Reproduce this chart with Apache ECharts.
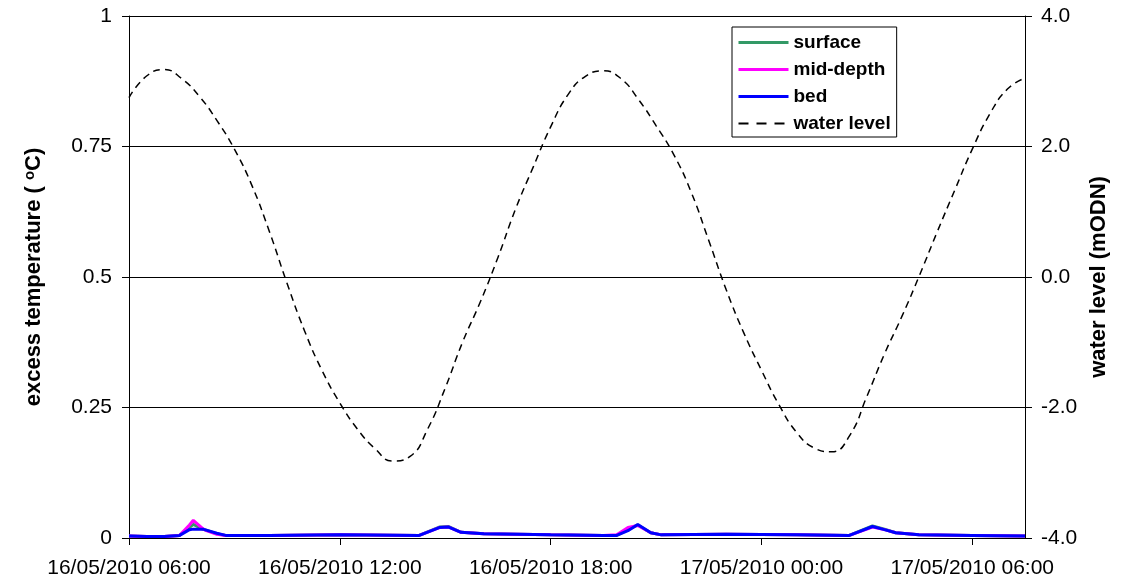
<!DOCTYPE html>
<html>
<head>
<meta charset="utf-8">
<script src="https://cdn.jsdelivr.net/npm/echarts@6/dist/echarts.min.js"></script>
<style>
  html, body { margin: 0; padding: 0; background: #fff; }
  #chart { width: 1125px; height: 585px; }
</style>
</head>
<body>
<div id="chart"></div>
<script>
// ---- data (hours after 16/05/2010 06:00) ----
const startDate = [2010, 4, 16, 6, 0];
const xTickHours = [0, 6, 12, 18, 24];

const levelHours = [0,0.5,1,1.5,2,2.5,3,3.5,4,4.5,5,5.5,6,6.5,7,7.5,8,8.5,9,9.5,10,10.5,11,11.5,12,12.5,13,13.5,14,14.5,15,15.5,16,16.5,17,17.5,18,18.5,19,19.5,20,20.5,21,21.5,22,22.5,23,23.5,24,24.5,25,25.5];
const waterLevel = [2.75,3.08,3.18,3.04,2.77,2.40,1.96,1.40,0.69,-0.1,-0.83,-1.44,-1.93,-2.33,-2.63,-2.82,-2.75,-2.33,-1.70,-0.99,-0.38,0.30,1.04,1.68,2.30,2.80,3.08,3.16,3.04,2.72,2.32,1.88,1.30,0.56,-0.2,-0.86,-1.43,-1.96,-2.38,-2.62,-2.68,-2.44,-1.83,-1.18,-0.60,0.03,0.69,1.33,1.96,2.50,2.88,3.05];

const tempHours = [0,0.5,1.0,1.44,1.72,1.83,2.1,2.2,2.5,2.75,4,6,8.26,8.83,9.1,9.45,10.1,12,13.5,13.88,14.2,14.48,14.85,15.15,17,19,20.5,21.16,21.5,21.82,22.48,24,25.5];
const surface = [0.004,0.003,0.003,0.005,0.020,0.026,0.017,0.015,0.008,0.005,0.005,0.006,0.005,0.021,0.022,0.011,0.008,0.006,0.005,0.005,0.016,0.025,0.010,0.006,0.007,0.006,0.005,0.023,0.017,0.010,0.006,0.005,0.004];
const midDepth = [0.004,0.003,0.003,0.005,0.025,0.034,0.018,0.014,0.007,0.005,0.005,0.006,0.005,0.020,0.021,0.011,0.008,0.006,0.005,0.006,0.020,0.024,0.010,0.006,0.007,0.006,0.005,0.021,0.016,0.010,0.006,0.005,0.004];
const bed = [0.004,0.003,0.003,0.005,0.016,0.017,0.017,0.015,0.009,0.005,0.005,0.006,0.005,0.020,0.021,0.011,0.008,0.006,0.005,0.005,0.014,0.026,0.010,0.006,0.007,0.006,0.005,0.022,0.016,0.010,0.006,0.005,0.004];

const tempTicks = [0, 0.25, 0.5, 0.75, 1];
const levelTicks = [-4, -2, 0, 2, 4];

// ---- helpers ----
const pair = (xs, ys) => xs.map((x, i) => [x, ys[i]]);
const pad = n => (n < 10 ? '0' : '') + n;
function hourLabel(h) {
  const d = new Date(startDate[0], startDate[1], startDate[2], startDate[3], startDate[4]);
  d.setTime(d.getTime() + h * 3600 * 1000);
  return pad(d.getDate()) + '/' + pad(d.getMonth() + 1) + '/' + d.getFullYear() + ' ' + pad(d.getHours()) + ':' + pad(d.getMinutes());
}

const FONT = '"Liberation Sans", Arial, sans-serif';
const chart = echarts.init(document.getElementById('chart'), null, { renderer: 'canvas' });

chart.setOption({
  animation: false,
  backgroundColor: '#fff',
  textStyle: { fontFamily: FONT },
  grid: { left: 129, right: 100, top: 16, bottom: 47 },
  legend: {
    orient: 'vertical',
    left: 732, top: 27,
    itemWidth: 50, itemHeight: 19, itemGap: 8,
    padding: [6, 6, 4, 5],
    borderColor: '#000', borderWidth: 1,
    backgroundColor: '#fff',
    itemStyle: { opacity: 0 },
    textStyle: { fontFamily: FONT, fontSize: 19, fontWeight: 'bold', color: '#000' },
    data: [
      { name: 'surface', lineStyle: { width: 3, color: '#339966' } },
      { name: 'mid-depth', lineStyle: { width: 3, color: '#FF00FF' } },
      { name: 'bed', lineStyle: { width: 3, color: '#0000FF' } },
      { name: 'water level', lineStyle: { width: 2, color: '#000', type: [10, 8] } }
    ]
  },
  xAxis: {
    type: 'value',
    min: 0, max: 25.5,
    interval: 6,
    axisLine: { show: true, onZero: false, lineStyle: { color: '#000', width: 1 } },
    axisTick: { show: true, length: 7, lineStyle: { color: '#000' }, customValues: xTickHours },
    axisLabel: { fontFamily: FONT, fontSize: 21, color: '#000', margin: 20, customValues: xTickHours, formatter: v => hourLabel(v) },
    splitLine: { show: false }
  },
  yAxis: [
    {
      type: 'value', min: 0, max: 1, interval: 0.25,
      position: 'left',
      name: 'excess temperature ( {sup|o}C)',
      nameLocation: 'middle', nameRotate: 90, nameGap: 84,
      nameTextStyle: {
        fontFamily: FONT, fontSize: 22, fontWeight: 'bold', color: '#000',
        rich: { sup: { fontFamily: FONT, fontSize: 15, fontWeight: 'bold', color: '#000', verticalAlign: 'top', padding: [0, 0, 8, 0] } }
      },
      axisLine: { show: true, lineStyle: { color: '#000', width: 1 } },
      axisTick: { show: true, length: 7, lineStyle: { color: '#000' } },
      axisLabel: { fontFamily: FONT, fontSize: 21, color: '#000', margin: 17, formatter: v => tempTicks.includes(v) ? String(v) : '' },
      splitLine: { show: true, lineStyle: { color: '#000', width: 1 } }
    },
    {
      type: 'value', min: -4, max: 4, interval: 2,
      position: 'right',
      name: 'water level (mODN)',
      nameLocation: 'middle', nameRotate: 90, nameGap: 61,
      nameTextStyle: { fontFamily: FONT, fontSize: 22, fontWeight: 'bold', color: '#000' },
      axisLine: { show: true, lineStyle: { color: '#000', width: 1 } },
      axisTick: { show: true, length: 7, lineStyle: { color: '#000' } },
      axisLabel: { fontFamily: FONT, fontSize: 21, color: '#000', margin: 16, formatter: v => levelTicks.includes(v) ? v.toFixed(1) : '' },
      splitLine: { show: false }
    }
  ],
  series: [
    {
      name: 'water level', type: 'line', yAxisIndex: 1,
      data: pair(levelHours, waterLevel),
      symbol: 'none', smooth: 0.5,
      lineStyle: { color: '#000', width: 1.5, type: [7, 5] },
      itemStyle: { color: '#000' },
      z: 2
    },
    {
      name: 'surface', type: 'line', yAxisIndex: 0,
      data: pair(tempHours, surface),
      symbol: 'none',
      lineStyle: { color: '#339966', width: 3 },
      itemStyle: { color: '#339966' },
      z: 3
    },
    {
      name: 'mid-depth', type: 'line', yAxisIndex: 0,
      data: pair(tempHours, midDepth),
      symbol: 'none',
      lineStyle: { color: '#FF00FF', width: 3 },
      itemStyle: { color: '#FF00FF' },
      z: 4
    },
    {
      name: 'bed', type: 'line', yAxisIndex: 0,
      data: pair(tempHours, bed),
      symbol: 'none',
      lineStyle: { color: '#0000FF', width: 3 },
      itemStyle: { color: '#0000FF' },
      z: 5
    }
  ]
});
</script>
</body>
</html>
